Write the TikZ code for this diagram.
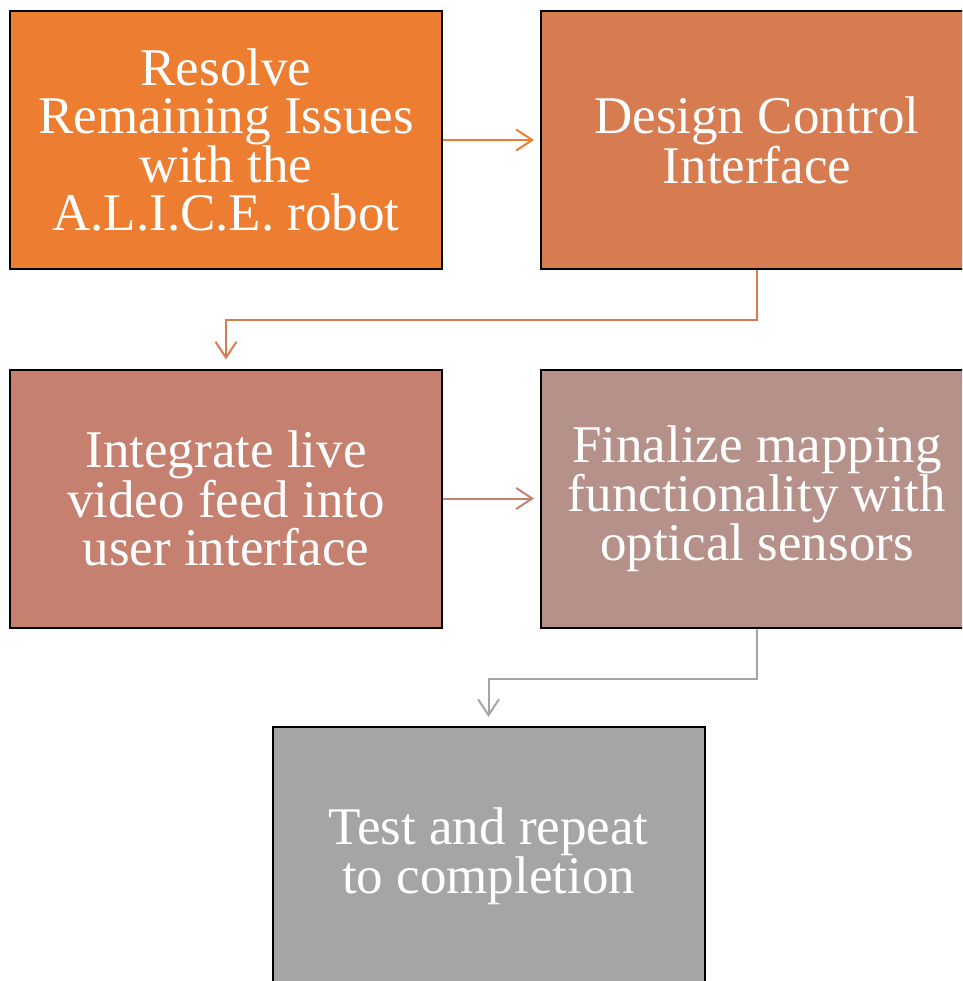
\documentclass[tikz,border=0pt]{standalone}
\usepackage{fontspec}
\setmainfont{Liberation Serif}
\usetikzlibrary{arrows.meta}
\definecolor{cA}{HTML}{ED7D31}
\definecolor{cB}{HTML}{D77B51}
\definecolor{cC}{HTML}{C5806F}
\definecolor{cD}{HTML}{B5918A}
\definecolor{cE}{HTML}{A5A5A5}
\tikzset{
  stepbox/.style={draw=black, line width=2pt, rectangle, minimum width=432pt, minimum height=258pt,
    text=white, align=center, inner sep=0pt, font=\fontsize{53}{48.5}\selectfont},
  arr/.style={line width=2pt, -{Straight Barb[length=16pt,width=21pt,line width=2pt]}}
}
\begin{document}
\begin{tikzpicture}[x=1pt,y=-1pt]
\useasboundingbox (0,0) rectangle (962,981);
\clip (0,0) rectangle (962,981);
\node[stepbox, fill=cA] (b1) at (226,140) {Resolve\\Remaining Issues\\with the\\A.L.I.C.E. robot};
\node[stepbox, fill=cB] (b2) at (757,140) {Design Control\\Interface};
\node[stepbox, fill=cC] (b3) at (226,498.5) {Integrate live\\video feed into\\user interface};
\node[stepbox, fill=cD] (b4) at (757,498.5) {Finalize mapping\\functionality with\\optical sensors};
\node[stepbox, fill=cE] (b5) at (488.5,856) {Test and repeat\\to completion};
\draw[arr, draw=cA, shorten >=6pt] (b1.east) -- (b2.west);
\draw[arr, draw=cB, shorten >=9pt] (b2.south) -- ++(0,50) -| (b3.north);
\draw[arr, draw=cC, shorten >=6pt] (b3.east) -- (b4.west);
\draw[arr, draw=cE, shorten >=9pt] (b4.south) -- ++(0,50) -| (b5.north);
\end{tikzpicture}
\end{document}
